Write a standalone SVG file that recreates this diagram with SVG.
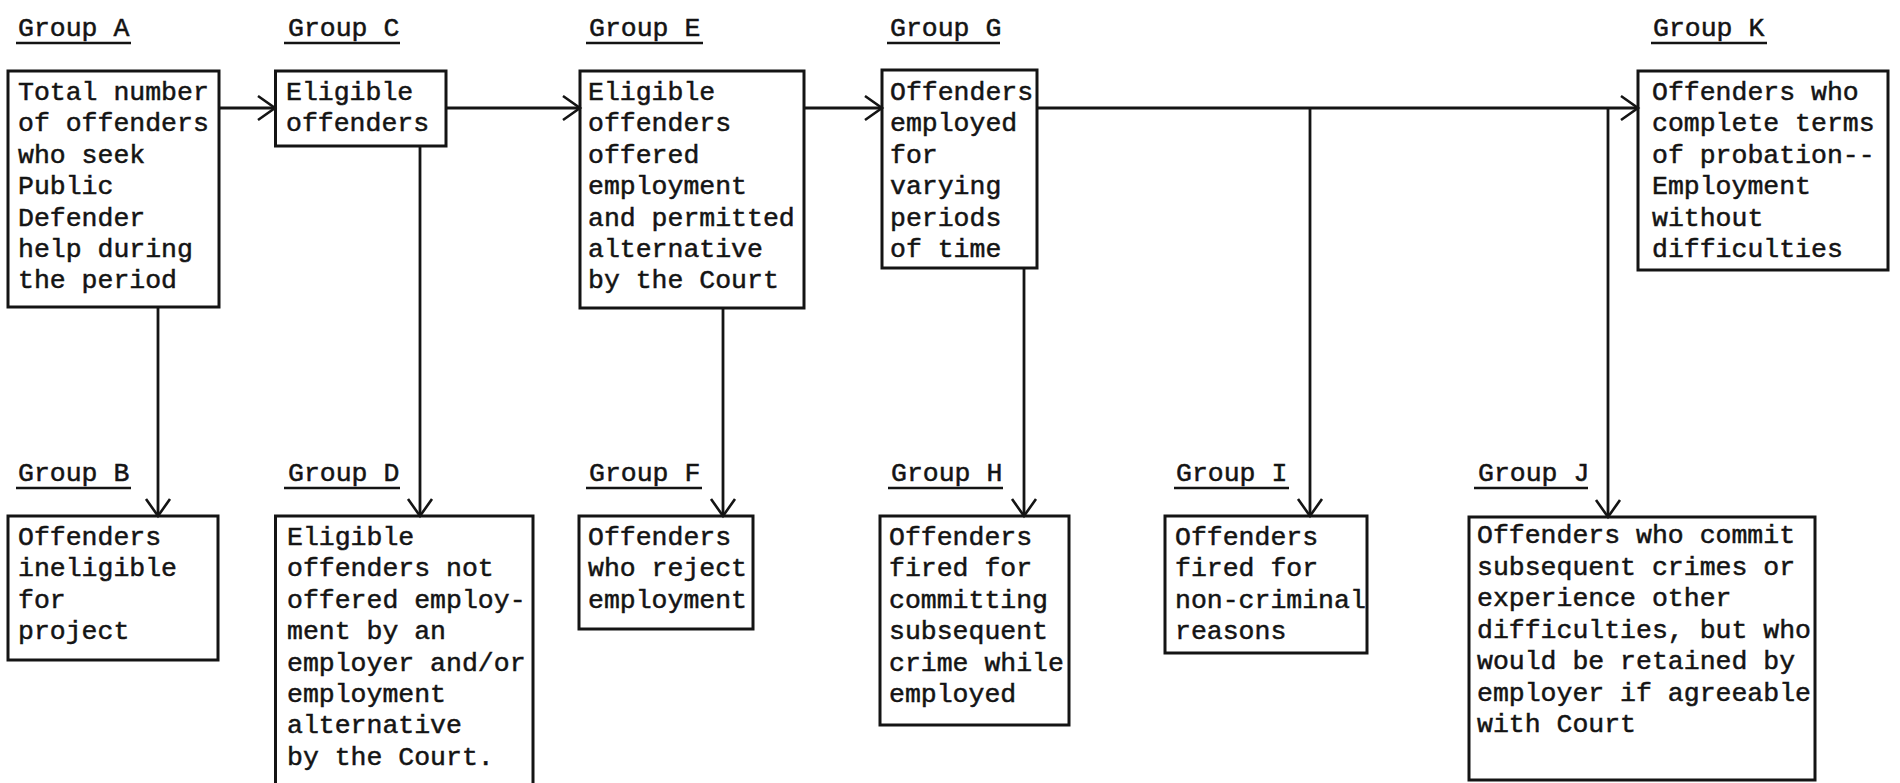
<svg xmlns="http://www.w3.org/2000/svg" width="1900" height="783" viewBox="0 0 1900 783">
<defs>
<style>
.box{fill:none;stroke:#141414;stroke-width:3}
.t{font-family:"Liberation Mono","DejaVu Sans Mono",monospace;font-size:26.5px;fill:#141414;stroke:#141414;stroke-width:0.5}
.ul{stroke:#141414;stroke-width:2.5}
.c{fill:none;stroke:#141414;stroke-width:2.8}
</style>
<marker id="arr" markerUnits="userSpaceOnUse" markerWidth="22" markerHeight="30" viewBox="0 0 22 30" refX="19" refY="15" orient="auto">
<path d="M2,3 L19,15 L2,27" fill="none" stroke="#141414" stroke-width="2.6"/>
</marker>
</defs>
<rect width="1900" height="783" fill="#ffffff"/>

<g id="connectors">
<path class="c" d="M219,108 H275" marker-end="url(#arr)"/>
<path class="c" d="M446,108 H580" marker-end="url(#arr)"/>
<path class="c" d="M804,108 H882" marker-end="url(#arr)"/>
<path class="c" d="M1037,108 H1638" marker-end="url(#arr)"/>
<path class="c" d="M158,307 V516" marker-end="url(#arr)"/>
<path class="c" d="M420,146 V516" marker-end="url(#arr)"/>
<path class="c" d="M723,308 V516" marker-end="url(#arr)"/>
<path class="c" d="M1024,268 V516" marker-end="url(#arr)"/>
<path class="c" d="M1310,108 V516" marker-end="url(#arr)"/>
<path class="c" d="M1608,108 V517" marker-end="url(#arr)"/>
</g>

<g id="groupA">
<text class="t" x="18" y="36">Group A</text>
<line class="ul" x1="16" y1="43" x2="131" y2="43"/>
<rect class="box" x="8" y="71" width="211" height="236"/>
<text class="t"><tspan x="18" y="100">Total number</tspan><tspan x="18" y="131.4">of offenders</tspan><tspan x="18" y="162.8">who seek</tspan><tspan x="18" y="194.2">Public</tspan><tspan x="18" y="225.6">Defender</tspan><tspan x="18" y="257">help during</tspan><tspan x="18" y="288.4">the period</tspan></text>
</g>

<g id="groupC">
<text class="t" x="288" y="36">Group C</text>
<line class="ul" x1="284" y1="43" x2="400" y2="43"/>
<rect class="box" x="275.5" y="71" width="170.5" height="75"/>
<text class="t"><tspan x="286" y="100">Eligible</tspan><tspan x="286" y="131.4">offenders</tspan></text>
</g>

<g id="groupE">
<text class="t" x="589" y="36">Group E</text>
<line class="ul" x1="586" y1="43" x2="703" y2="43"/>
<rect class="box" x="580" y="71" width="224" height="237"/>
<text class="t"><tspan x="588" y="100">Eligible</tspan><tspan x="588" y="131.4">offenders</tspan><tspan x="588" y="162.8">offered</tspan><tspan x="588" y="194.2">employment</tspan><tspan x="588" y="225.6">and permitted</tspan><tspan x="588" y="257">alternative</tspan><tspan x="588" y="288.4">by the Court</tspan></text>
</g>

<g id="groupG">
<text class="t" x="890" y="36">Group G</text>
<line class="ul" x1="887" y1="43" x2="1000" y2="43"/>
<rect class="box" x="882" y="70" width="155" height="198"/>
<text class="t"><tspan x="890" y="100">Offenders</tspan><tspan x="890" y="131.4">employed</tspan><tspan x="890" y="162.8">for</tspan><tspan x="890" y="194.2">varying</tspan><tspan x="890" y="225.6">periods</tspan><tspan x="890" y="257">of time</tspan></text>
</g>

<g id="groupK">
<text class="t" x="1653" y="36">Group K</text>
<line class="ul" x1="1651" y1="43" x2="1767" y2="43"/>
<rect class="box" x="1638" y="71" width="250" height="199"/>
<text class="t"><tspan x="1652" y="100">Offenders who</tspan><tspan x="1652" y="131.4">complete terms</tspan><tspan x="1652" y="162.8">of probation--</tspan><tspan x="1652" y="194.2">Employment</tspan><tspan x="1652" y="225.6">without</tspan><tspan x="1652" y="257">difficulties</tspan></text>
</g>

<g id="groupB">
<text class="t" x="18" y="481">Group B</text>
<line class="ul" x1="16" y1="488" x2="131" y2="488"/>
<rect class="box" x="8" y="516" width="210" height="144"/>
<text class="t"><tspan x="18" y="545">Offenders</tspan><tspan x="18" y="576.4">ineligible</tspan><tspan x="18" y="607.8">for</tspan><tspan x="18" y="639.2">project</tspan></text>
</g>

<g id="groupD">
<text class="t" x="288" y="481">Group D</text>
<line class="ul" x1="284" y1="488" x2="400" y2="488"/>
<rect class="box" x="275.5" y="516" width="257.5" height="290"/>
<text class="t"><tspan x="287" y="545">Eligible</tspan><tspan x="287" y="576.4">offenders not</tspan><tspan x="287" y="607.8">offered employ-</tspan><tspan x="287" y="639.2">ment by an</tspan><tspan x="287" y="670.6">employer and/or</tspan><tspan x="287" y="702">employment</tspan><tspan x="287" y="733.4">alternative</tspan><tspan x="287" y="764.8">by the Court.</tspan></text>
</g>

<g id="groupF">
<text class="t" x="589" y="481">Group F</text>
<line class="ul" x1="586" y1="488" x2="702" y2="488"/>
<rect class="box" x="579" y="516" width="174" height="113"/>
<text class="t"><tspan x="588" y="545">Offenders</tspan><tspan x="588" y="576.4">who reject</tspan><tspan x="588" y="607.8">employment</tspan></text>
</g>

<g id="groupH">
<text class="t" x="891" y="481">Group H</text>
<line class="ul" x1="888" y1="488" x2="1003" y2="488"/>
<rect class="box" x="880" y="516" width="189" height="209"/>
<text class="t"><tspan x="889" y="545">Offenders</tspan><tspan x="889" y="576.4">fired for</tspan><tspan x="889" y="607.8">committing</tspan><tspan x="889" y="639.2">subsequent</tspan><tspan x="889" y="670.6">crime while</tspan><tspan x="889" y="702">employed</tspan></text>
</g>

<g id="groupI">
<text class="t" x="1176" y="481">Group I</text>
<line class="ul" x1="1174" y1="488" x2="1289" y2="488"/>
<rect class="box" x="1165" y="516" width="202" height="137"/>
<text class="t"><tspan x="1175" y="545">Offenders</tspan><tspan x="1175" y="576.4">fired for</tspan><tspan x="1175" y="607.8">non-criminal</tspan><tspan x="1175" y="639.2">reasons</tspan></text>
</g>

<g id="groupJ">
<text class="t" x="1478" y="481">Group J</text>
<line class="ul" x1="1474" y1="488" x2="1588" y2="488"/>
<rect class="box" x="1469" y="517" width="346" height="263"/>
<text class="t"><tspan x="1477" y="543">Offenders who commit</tspan><tspan x="1477" y="574.5">subsequent crimes or</tspan><tspan x="1477" y="606">experience other</tspan><tspan x="1477" y="637.5">difficulties, but who</tspan><tspan x="1477" y="669">would be retained by</tspan><tspan x="1477" y="700.5">employer if agreeable</tspan><tspan x="1477" y="732">with Court</tspan></text>
</g>
</svg>
